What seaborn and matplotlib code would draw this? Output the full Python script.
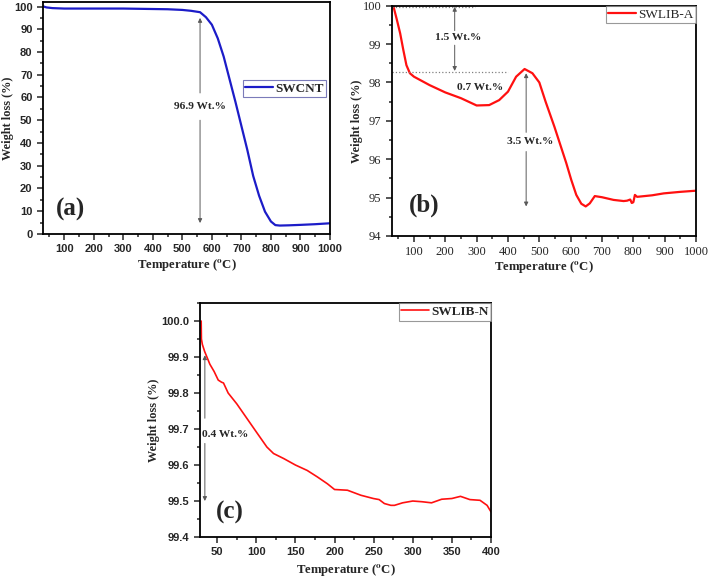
import numpy as np
import pandas as pd
import seaborn as sns
import matplotlib.pyplot as plt
from matplotlib.ticker import MultipleLocator, FormatStrFormatter


# (a) SWCNT
temp_a = [30, 40, 60, 100, 200, 300, 400, 450, 500, 530, 560, 580, 600, 620, 640,
          660, 680, 700, 720, 740, 760, 780, 800, 815, 830, 860, 900, 950, 1000]
wt_a = [100, 99.6, 99.3, 99.1, 99.1, 99.1, 98.9, 98.8, 98.5, 98.1, 97.5, 95.3, 92,
        86, 78, 68, 58, 47.5, 37, 25.5, 16.8, 9.8, 5.5, 3.9, 3.7, 3.8, 4.0, 4.3, 4.7]

# (b) SWLIB-A
temp_b = [34, 45, 56, 66, 76, 87, 100, 150, 200, 250, 300, 340, 372, 400, 426, 453,
          478, 500, 520, 548, 570, 586, 602, 618, 634, 648, 661, 677, 700, 737, 769,
          780, 790, 795, 800, 805, 812, 860, 897, 950, 1000]
wt_b = [100, 99.65, 99.28, 98.85, 98.45, 98.24, 98.15, 97.93, 97.74, 97.59, 97.40,
        97.41, 97.54, 97.76, 98.15, 98.35, 98.24, 98.0, 97.5, 96.85, 96.3, 95.9,
        95.46, 95.07, 94.84, 94.77, 94.85, 95.04, 95.01, 94.94, 94.91, 94.92, 94.95,
        94.86, 94.88, 95.07, 95.02, 95.06, 95.11, 95.15, 95.18]

# (c) SWLIB-N
temp_c = [29.5, 29.8, 31, 34, 40.6, 46, 51.3, 55.6, 58, 64, 75, 87.8, 100.6, 113.5,
          122, 135, 150, 165, 178, 190.8, 200, 216.5, 233.7, 249.6, 257, 263.7, 272,
          276.6, 287, 300, 312, 324, 337, 350, 361, 373, 386, 395, 400]
wt_c = [100.0, 99.95, 99.935, 99.915, 99.88, 99.86, 99.836, 99.83, 99.828, 99.80,
        99.77, 99.73, 99.69, 99.65, 99.632, 99.618, 99.60, 99.585, 99.567, 99.548,
        99.532, 99.530, 99.516, 99.507, 99.504, 99.493, 99.488, 99.488, 99.495,
        99.50, 99.498, 99.495, 99.505, 99.507, 99.513, 99.504, 99.502, 99.488, 99.47]


sns.set_style('ticks')
plt.rcParams['font.family'] = ['Liberation Serif', 'DejaVu Serif']
plt.rcParams['mathtext.fontset'] = 'stix'
plt.rcParams['axes.linewidth'] = 1.3

SERIF = 'Liberation Serif'
SANS = 'Liberation Sans'
xlab = r'Temperature ($^{\mathbf{o}}$C)'
ylab = 'Weight loss (%)'


def style_axes(ax, tick_family, tick_weight, tick_size, ylab_x, xlab_y):
    ax.tick_params(which='both', direction='out', width=1.1)
    ax.tick_params(which='major', length=4)
    ax.tick_params(which='minor', length=2.5)
    for lab in ax.get_xticklabels() + ax.get_yticklabels():
        lab.set_family(tick_family)
        lab.set_weight(tick_weight)
        lab.set_size(tick_size)
    for s in ax.spines.values():
        s.set_visible(True)
        s.set_color('black')
    ax.set_xlabel(xlab, family=SERIF, weight='bold', size=9.2)
    ax.set_ylabel(ylab, family=SERIF, weight='bold', size=8.8)
    ax.yaxis.set_label_coords(ylab_x, 0.5)
    ax.xaxis.set_label_coords(0.5, xlab_y)


def small_legend(ax, bbox, weight, edge):
    leg = ax.legend(loc='upper right', bbox_to_anchor=bbox, fancybox=False,
                    handlelength=2.1, borderpad=0.2, handletextpad=0.15,
                    borderaxespad=0.0,
                    prop=dict(family=SERIF, weight=weight, size=9.5))
    leg.get_frame().set_edgecolor(edge)
    leg.get_frame().set_linewidth(0.8)


def arrow(ax, start, tip):
    ax.annotate('', xy=tip, xytext=start,
                arrowprops=dict(arrowstyle='-|>', color='0.35', lw=0.7,
                                mutation_scale=6, shrinkA=0, shrinkB=0))


fig = plt.figure(figsize=(7.09, 5.78), dpi=100)

# ---------- (a) ----------
ax = fig.add_axes([0.0606, 0.5952, 0.4048, 0.4014])
sns.lineplot(x=temp_a, y=wt_a, color='#1c1cc8', lw=1.6, label='SWCNT', ax=ax)
ax.set_xlim(28, 1000)
ax.set_ylim(0, 102)
ax.xaxis.set_major_locator(MultipleLocator(100))
ax.xaxis.set_minor_locator(MultipleLocator(50))
ax.yaxis.set_major_locator(MultipleLocator(10))
ax.yaxis.set_minor_locator(MultipleLocator(5))
style_axes(ax, SANS, 'bold', 8, -0.10, -0.10)
small_legend(ax, (0.987, 0.665), 'bold', '#5a5aa8')
ax.text(560, 56, '96.9 Wt.%', family=SERIF, weight='bold', size=8.2, ha='center', va='center')
arrow(ax, (560, 62), (560, 95))
arrow(ax, (560, 50), (560, 4.8))
ax.text(120, 11, '(a)', family=SERIF, weight='bold', size=18, ha='center', va='center')

# ---------- (b) ----------
ax = fig.add_axes([0.5529, 0.5917, 0.4288, 0.3985])
sns.lineplot(x=temp_b, y=wt_b, color='#ff1010', lw=1.6, label='SWLIB-A', ax=ax)
ax.set_xlim(30, 1000)
ax.set_ylim(94, 100)
ax.xaxis.set_major_locator(MultipleLocator(100))
ax.xaxis.set_minor_locator(MultipleLocator(50))
ax.yaxis.set_major_locator(MultipleLocator(1))
ax.yaxis.set_minor_locator(MultipleLocator(0.5))
style_axes(ax, SERIF, 'normal', 9, -0.095, -0.10)
small_legend(ax, (1.0, 1.0), 'normal', '0.5')
ax.plot([30, 296], [99.97, 99.97], ls=':', color='0.5', lw=0.9)
ax.plot([30, 400], [98.28, 98.28], ls=':', color='0.5', lw=0.9)
ax.text(240, 99.16, '1.5 Wt.%', family=SERIF, weight='bold', size=8.2, ha='center', va='center')
arrow(ax, (230, 99.35), (230, 99.97))
arrow(ax, (230, 98.97), (230, 98.3))
ax.text(310, 97.87, '0.7 Wt.%', family=SERIF, weight='bold', size=8.2, ha='center', va='center')
ax.text(470, 96.46, '3.5 Wt.%', family=SERIF, weight='bold', size=8.2, ha='center', va='center')
arrow(ax, (458, 96.7), (458, 98.24))
arrow(ax, (458, 96.2), (458, 94.77))
ax.text(132, 94.8, '(b)', family=SERIF, weight='bold', size=18, ha='center', va='center')

# ---------- (c) ----------
ax = fig.add_axes([0.2821, 0.0709, 0.4104, 0.4048])
sns.lineplot(x=temp_c, y=wt_c, sort=False, color='#ff1010', lw=1.2, label='SWLIB-N', ax=ax)
ax.set_xlim(28, 400)
ax.set_ylim(99.4, 100.05)
ax.xaxis.set_major_locator(MultipleLocator(50))
ax.xaxis.set_minor_locator(MultipleLocator(25))
ax.yaxis.set_major_locator(MultipleLocator(0.1))
ax.yaxis.set_minor_locator(MultipleLocator(0.05))
ax.yaxis.set_major_formatter(FormatStrFormatter('%.1f'))
style_axes(ax, SANS, 'bold', 8, -0.137, -0.105)
small_legend(ax, (1.0, 1.0), 'bold', '0.5')
ax.text(31, 99.686, '0.4 Wt.%', family=SERIF, weight='bold', size=8.2, ha='left', va='center')
arrow(ax, (34.2, 99.73), (34.2, 99.905))
arrow(ax, (34.2, 99.66), (34.2, 99.50))
ax.text(66, 99.467, '(c)', family=SERIF, weight='bold', size=18, ha='center', va='center')

plt.savefig('out.png', dpi=100)
